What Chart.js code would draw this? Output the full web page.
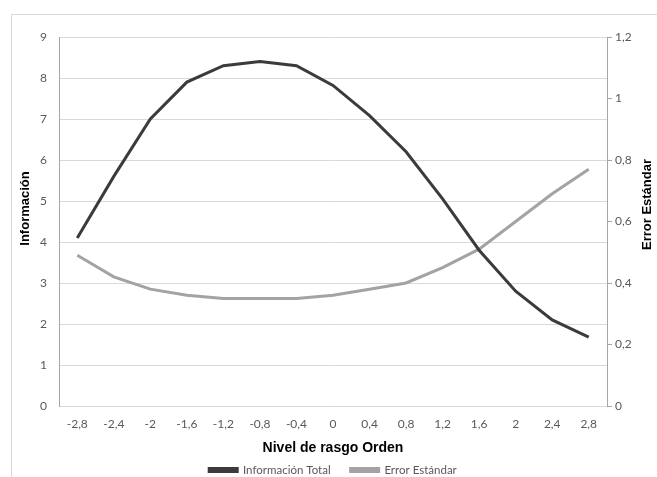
<!DOCTYPE html>
<html>
<head>
<meta charset="utf-8">
<script src="https://cdn.jsdelivr.net/npm/chart.js@4.4.0/dist/chart.umd.min.js"></script>
<style>
    body { margin: 0; background: #ffffff; }
    #Frame { position: absolute; left: 11px; top: 14px; width: 700px; height: 500px; border: 1px solid #d9d9d9; }
    #Wrap { position: absolute; left: 0; top: 0; width: 657px; height: 477px; }
</style>
</head>
<body>
<div id="Frame"></div>
<div id="Wrap"><canvas id="InformacionChart" width="657" height="477"></canvas></div>
<script>
const NivelLabels = ['-2,8', '-2,4', '-2', '-1,6', '-1,2', '-0,8', '-0,4', '0', '0,4', '0,8', '1,2', '1,6', '2', '2,4', '2,8'];
const InformacionTotal = [4.1, 5.6, 7.0, 7.9, 8.3, 8.4, 8.3, 7.82, 7.08, 6.2, 5.05, 3.8, 2.8, 2.1, 1.68];
const ErrorEstandar = [0.49, 0.42, 0.38, 0.36, 0.35, 0.35, 0.35, 0.36, 0.38, 0.40, 0.45, 0.51, 0.60, 0.69, 0.77];
const LeftTicks = { min: 0, max: 9, step: 1 };
const RightTicks = { min: 0, max: 1.2, step: 0.2 };

const TickColor = '#595959';
const TickFont = { family: 'Lato', size: 12 };
const LegendFont = { family: 'Lato', size: 11.5 };

// vertical axis titles, drawn bottom-to-top on both sides like the original
const sideTitles = {
    id: 'sideTitles',
    afterDraw(chart) {
        const { chartArea: { left, right, top, bottom }, ctx } = chart;
        const mid = (top + bottom) / 2;
        ctx.save();
        ctx.font = 'bold 13px "Liberation Sans"';
        ctx.fillStyle = '#000000';
        ctx.textAlign = 'center';
        ctx.textBaseline = 'middle';
        ctx.translate(left - 34, mid - 13);
        ctx.rotate(-Math.PI / 2);
        ctx.fillText('Información', 0, 0);
        ctx.restore();

        ctx.save();
        ctx.font = 'bold 13px "Liberation Sans"';
        ctx.fillStyle = '#000000';
        ctx.textAlign = 'center';
        ctx.textBaseline = 'middle';
        ctx.translate(right + 40, mid - 17);
        ctx.rotate(-Math.PI / 2);
        ctx.fillText('Error Estándar', 0, 0);
        ctx.restore();
    }
};

function commaNumber(value)
{
    return String(Math.round(value * 10) / 10).replace('.', ',');
}

new Chart(document.getElementById('InformacionChart'),
{
    type: 'line',
    data:
    {
        labels: NivelLabels,
        datasets:
        [
            {
                label: 'Información Total',
                data: InformacionTotal,
                yAxisID: 'y',
                borderColor: '#3b3b3b',
                backgroundColor: '#3b3b3b',
                borderWidth: 3,
                pointRadius: 0,
                tension: 0
            },
            {
                label: 'Error Estándar',
                data: ErrorEstandar,
                yAxisID: 'y1',
                borderColor: '#a3a3a3',
                backgroundColor: '#a3a3a3',
                borderWidth: 3,
                pointRadius: 0,
                tension: 0
            }
        ]
    },
    options:
    {
        responsive: false,
        animation: false,
        layout: { padding: { top: 37, left: 0, right: 0, bottom: -8.75 } },
        plugins:
        {
            tooltip: { enabled: false },
            legend:
            {
                position: 'bottom',
                fullSize: false,
                labels:
                {
                    boxWidth: 28,
                    boxHeight: 3,
                    padding: 20,
                    color: TickColor,
                    font: LegendFont
                }
            }
        },
        scales:
        {
            x:
            {
                offset: true,
                grid: { display: false, drawTicks: false },
                border: { display: false },
                ticks: { color: TickColor, font: TickFont, padding: 11, maxRotation: 0, autoSkip: false },
                title:
                {
                    display: true,
                    text: 'Nivel de rasgo Orden',
                    color: '#000000',
                    font: { family: 'Liberation Sans', size: 14, weight: 'bold' },
                    padding: { top: 0, bottom: -12 }
                },
                afterFit(scale) { scale.height = 38.25; }
            },
            y:
            {
                position: 'left',
                min: LeftTicks.min,
                max: LeftTicks.max,
                grid: { color: '#d9d9d9', drawTicks: false },
                border: { color: '#a6a6a6' },
                ticks: { stepSize: LeftTicks.step, color: TickColor, font: TickFont, padding: 12 },
                afterFit(scale) { scale.width = 59; }
            },
            y1:
            {
                position: 'right',
                min: RightTicks.min,
                max: RightTicks.max,
                grid: { drawOnChartArea: false, color: '#a6a6a6', tickLength: 5 },
                border: { color: '#a6a6a6' },
                ticks:
                {
                    stepSize: RightTicks.step,
                    color: TickColor,
                    font: TickFont,
                    padding: 3,
                    callback: (value) => commaNumber(value)
                },
                afterFit(scale) { scale.width = 50; }
            }
        }
    },
    plugins: [sideTitles]
});
</script>
</body>
</html>
